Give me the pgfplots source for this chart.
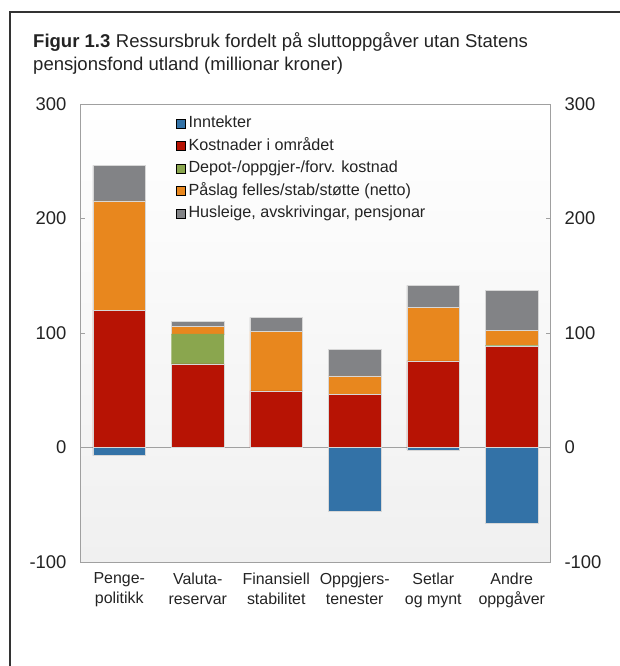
\documentclass[border=0pt]{standalone}
\usepackage{pgfplots}
\pgfplotsset{compat=1.18}
\usepackage{fontspec}
\setmainfont{Liberation Sans}
\definecolor{cInn}{RGB}{51,114,167}
\definecolor{cKost}{RGB}{183,19,4}
\definecolor{cDep}{RGB}{138,166,78}
\definecolor{cPaa}{RGB}{232,135,30}
\definecolor{cHus}{RGB}{130,131,134}
\definecolor{cFrame}{RGB}{160,160,160}
\definecolor{cBgBot}{RGB}{240,240,240}
\definecolor{cText}{RGB}{35,35,35}
\definecolor{cEdge}{RGB}{215,215,215}
\begin{document}
\begin{tikzpicture}
\useasboundingbox (0bp,0bp) rectangle (620bp,-666bp);
\draw[line width=1.4bp, black!80] (10bp,-666bp) -- (10bp,-12bp) -- (620bp,-12bp);
\node[anchor=base west, inner sep=0pt, text=cText, font=\fontsize{18.6}{22}\selectfont] at (33bp,-47.3bp)
  {\textbf{Figur 1.3}\hspace{0.3em}Ressursbruk fordelt på sluttoppgåver utan Statens};
\node[anchor=base west, inner sep=0pt, text=cText, font=\fontsize{18.6}{22}\selectfont] at (33bp,-70.8bp)
  {pensjonsfond utland (millionar kroner)};
\begin{axis}[
  at={(80bp,-562bp)}, anchor=south west,
  width=471bp, height=458bp, scale only axis,
  xmin=-0.5, xmax=5.5, ymin=-100, ymax=300,
  ybar stacked, bar width=0.67,
  axis background/.style={top color=white, bottom color=cBgBot},
  axis line style={cFrame, line width=1bp},
  xtick={0,1,2,3,4,5},
  xticklabels={{Penge-\\politikk},{Valuta-\\reservar},{Finansiell\\stabilitet},{Oppgjers-\\tenester},{Setlar\\og mynt},{Andre\\oppgåver}},
  x tick style={draw=none},
  xticklabel style={align=center, font=\fontsize{16}{19.5}\selectfont, text=cText, yshift=-7.5bp},
  ytick={-100,0,100,200,300},
  yticklabels={-100,0,100,200,300},
  ytick pos=both, yticklabel pos=left,
  tick align=inside, major tick length=5bp,
  y tick style={cFrame, line width=1bp},
  yticklabel style={font=\fontsize{18.5}{22}\selectfont, text=cText, xshift=-10bp},
  extra y ticks={0}, extra y tick labels={},
  extra y tick style={grid=major, major grid style={cFrame, line width=1.2bp}},
  legend image code/.code={\fill[#1] (0bp,-4.5bp) rectangle (9bp,4.5bp);},
  legend style={at={(0.2038,0.974)}, anchor=north west, draw=none, fill=none,
    inner sep=0pt, row sep=7.5bp, font=\fontsize{16.2}{19}\selectfont, text=cText,
    nodes={inner sep=0pt, text height=11.5bp, text depth=3.5bp},
    /tikz/every even column/.append style={column sep=0bp}},
  legend cell align=left,
]
\addplot[fill=cKost, draw=cEdge, line width=0.5bp, forget plot] coordinates {(0,120) (1,73) (2,49.5) (3,46.5) (4,75.7) (5,88.2)};
\addplot[fill=cDep, draw=none, forget plot] coordinates {(0,0) (1,26.3) (2,0) (3,0) (4,0) (5,1)};
\addplot[fill=cPaa, draw=cEdge, line width=0.5bp, forget plot] coordinates {(0,95.5) (1,6.5) (2,52) (3,16) (4,46.6) (5,13.3)};
\addplot[fill=cHus, draw=cEdge, line width=0.5bp, forget plot] coordinates {(0,31) (1,4.4) (2,12.2) (3,23.4) (4,19.3) (5,35)};
\addplot[fill=cInn, draw=cEdge, line width=0.5bp, stack plots=false, forget plot] coordinates {(0,-7) (3,-55.5) (4,-2) (5,-66)};
\addlegendimage{fill=cInn}
\addlegendentry{\hspace{3bp}Inntekter}
\addlegendimage{fill=cKost}
\addlegendentry{\hspace{3bp}Kostnader i området}
\addlegendimage{fill=cDep}
\addlegendentry{\hspace{3bp}Depot-/oppgjer-/forv. kostnad}
\addlegendimage{fill=cPaa}
\addlegendentry{\hspace{3bp}Påslag felles/stab/støtte (netto)}
\addlegendimage{fill=cHus}
\addlegendentry{\hspace{3bp}Husleige, avskrivingar, pensjonar}
\end{axis}
\begin{axis}[
  at={(80bp,-562bp)}, anchor=south west,
  width=471bp, height=458bp, scale only axis,
  xmin=-0.5, xmax=5.5, ymin=-100, ymax=300,
  axis line style={draw=none}, xtick=\empty,
  ytick={-100,0,100,200,300},
  yticklabels={-100,0,100,200,300},
  yticklabel pos=right, major tick length=0pt,
  yticklabel style={font=\fontsize{18.5}{22}\selectfont, text=cText, xshift=10bp},
]
\end{axis}
\end{tikzpicture}
\end{document}
